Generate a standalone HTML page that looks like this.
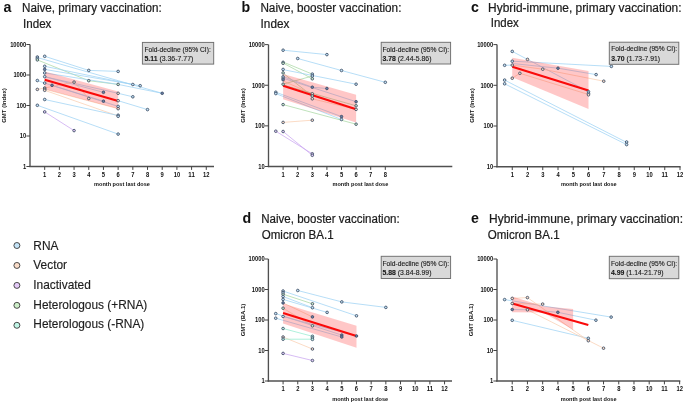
<!DOCTYPE html>
<html><head><meta charset="utf-8"><style>
html,body{margin:0;padding:0;background:#fff;width:685px;height:403px;overflow:hidden}
svg{display:block;will-change:transform;filter:blur(0.35px)}
text{font-family:"Liberation Sans", sans-serif}
</style></head><body>
<svg width="685" height="403" viewBox="0 0 685 403" font-family='"Liberation Sans", sans-serif'>
<rect width="685" height="403" fill="#fff"/>
<text x="3.6" y="11.8" font-size="14.2" font-weight="700" text-anchor="start" fill="#111" >a</text>
<text x="22.0" y="11.8" font-size="12" font-weight="400" text-anchor="start" fill="#1c1c1c" textLength="139.8" lengthAdjust="spacingAndGlyphs" stroke="#1c1c1c" stroke-width="0.22">Naive, primary vaccination:</text>
<text x="23.0" y="27.6" font-size="12" font-weight="400" text-anchor="start" fill="#1c1c1c" textLength="28.4" lengthAdjust="spacingAndGlyphs" stroke="#1c1c1c" stroke-width="0.22">Index</text>
<text x="0" y="0" font-size="6.0" font-weight="700" text-anchor="middle" fill="#111" transform="translate(6.1,105.5) rotate(-90)">GMT (Index)</text>
<line x1="37.34" y1="57.5" x2="162.21" y2="93.3" stroke="#9fd3f4" stroke-width="0.75"/>
<line x1="44.69" y1="56.3" x2="88.76" y2="70.4" stroke="#9fd3f4" stroke-width="0.75"/>
<line x1="88.76" y1="70.4" x2="118.14" y2="71.4" stroke="#9fd3f4" stroke-width="0.75"/>
<line x1="37.34" y1="59.9" x2="88.76" y2="80.7" stroke="#a9d8a4" stroke-width="0.75"/>
<line x1="88.76" y1="80.7" x2="118.14" y2="84.4" stroke="#a9d8a4" stroke-width="0.75"/>
<line x1="44.69" y1="66.3" x2="132.83" y2="84.5" stroke="#9fd3f4" stroke-width="0.75"/>
<line x1="44.69" y1="69.4" x2="140.18" y2="85.7" stroke="#9fd3f4" stroke-width="0.75"/>
<line x1="44.69" y1="72.9" x2="118.14" y2="84.4" stroke="#9fd3f4" stroke-width="0.75"/>
<line x1="118.14" y1="84.4" x2="162.21" y2="93.3" stroke="#9fd3f4" stroke-width="0.75"/>
<line x1="44.69" y1="76.7" x2="118.14" y2="93.3" stroke="#9fd3f4" stroke-width="0.75"/>
<line x1="44.69" y1="76.7" x2="103.45" y2="92.3" stroke="#9fd3f4" stroke-width="0.75"/>
<line x1="37.34" y1="80.5" x2="44.69" y2="83.1" stroke="#9fd3f4" stroke-width="0.75"/>
<line x1="44.69" y1="83.1" x2="118.14" y2="106.4" stroke="#9fd3f4" stroke-width="0.75"/>
<line x1="52.03" y1="85.3" x2="103.45" y2="101.2" stroke="#9fd3f4" stroke-width="0.75"/>
<line x1="37.34" y1="89.4" x2="44.69" y2="88.0" stroke="#f9cfb2" stroke-width="0.75"/>
<line x1="44.69" y1="88" x2="74.07" y2="82.1" stroke="#f9cfb2" stroke-width="0.75"/>
<line x1="44.69" y1="89.2" x2="118.14" y2="108.7" stroke="#f9cfb2" stroke-width="0.75"/>
<line x1="44.69" y1="90.3" x2="118.14" y2="116" stroke="#f9cfb2" stroke-width="0.75"/>
<line x1="74.07" y1="82.1" x2="88.76" y2="98.5" stroke="#f9cfb2" stroke-width="0.75"/>
<line x1="118.14" y1="93.3" x2="132.83" y2="96.8" stroke="#9fd3f4" stroke-width="0.75"/>
<line x1="118.14" y1="100.7" x2="147.52" y2="109.6" stroke="#9fd3f4" stroke-width="0.75"/>
<line x1="44.69" y1="99.5" x2="118.14" y2="115.5" stroke="#9fd3f4" stroke-width="0.75"/>
<line x1="37.34" y1="105.3" x2="118.14" y2="134.1" stroke="#9fd3f4" stroke-width="0.75"/>
<line x1="44.69" y1="111.9" x2="74.07" y2="130.6" stroke="#c9a6f0" stroke-width="0.75"/>
<polygon points="44.69,71.5 118.14,91.6 118.14,108.7 44.69,88.9" fill="#ff2020" fill-opacity="0.25"/>
<line x1="44.69" y1="79.8" x2="118.14" y2="100.9" stroke="#fa0a0a" stroke-width="2.1"/>
<circle cx="37.34" cy="57" r="1.3" fill="#c4e4f8" stroke="#3a4a62" stroke-width="0.85"/>
<circle cx="37.34" cy="58.4" r="1.3" fill="#c4e4f8" stroke="#3a4a62" stroke-width="0.85"/>
<circle cx="37.34" cy="59.9" r="1.3" fill="#cdeec8" stroke="#3a4a62" stroke-width="0.85"/>
<circle cx="37.34" cy="80.5" r="1.3" fill="#c4e4f8" stroke="#3a4a62" stroke-width="0.85"/>
<circle cx="37.34" cy="89.4" r="1.3" fill="#fadcc8" stroke="#3a4a62" stroke-width="0.85"/>
<circle cx="37.34" cy="105.3" r="1.3" fill="#c4e4f8" stroke="#3a4a62" stroke-width="0.85"/>
<circle cx="44.69" cy="56.3" r="1.3" fill="#c4e4f8" stroke="#3a4a62" stroke-width="0.85"/>
<circle cx="44.69" cy="66.3" r="1.3" fill="#c4e4f8" stroke="#3a4a62" stroke-width="0.85"/>
<circle cx="44.69" cy="69.4" r="1.3" fill="#6a7fa8" stroke="#3a4a62" stroke-width="0.85"/>
<circle cx="44.69" cy="72.9" r="1.3" fill="#c4e4f8" stroke="#3a4a62" stroke-width="0.85"/>
<circle cx="44.69" cy="76.7" r="1.3" fill="#c4e4f8" stroke="#3a4a62" stroke-width="0.85"/>
<circle cx="44.69" cy="83.1" r="1.3" fill="#c4e4f8" stroke="#3a4a62" stroke-width="0.85"/>
<circle cx="44.69" cy="88" r="1.3" fill="#fadcc8" stroke="#3a4a62" stroke-width="0.85"/>
<circle cx="44.69" cy="89.2" r="1.3" fill="#fadcc8" stroke="#3a4a62" stroke-width="0.85"/>
<circle cx="44.69" cy="90.3" r="1.3" fill="#fadcc8" stroke="#3a4a62" stroke-width="0.85"/>
<circle cx="44.69" cy="99.5" r="1.3" fill="#c4e4f8" stroke="#3a4a62" stroke-width="0.85"/>
<circle cx="44.69" cy="111.9" r="1.3" fill="#e4caf8" stroke="#3a4a62" stroke-width="0.85"/>
<circle cx="52.03" cy="85.3" r="1.3" fill="#6a7fa8" stroke="#3a4a62" stroke-width="0.85"/>
<circle cx="74.07" cy="82.1" r="1.3" fill="#fadcc8" stroke="#3a4a62" stroke-width="0.85"/>
<circle cx="74.07" cy="130.6" r="1.3" fill="#e4caf8" stroke="#3a4a62" stroke-width="0.85"/>
<circle cx="88.76" cy="70.4" r="1.3" fill="#c4e4f8" stroke="#3a4a62" stroke-width="0.85"/>
<circle cx="88.76" cy="80.7" r="1.3" fill="#cdeec8" stroke="#3a4a62" stroke-width="0.85"/>
<circle cx="88.76" cy="98.5" r="1.3" fill="#fadcc8" stroke="#3a4a62" stroke-width="0.85"/>
<circle cx="103.45" cy="92.3" r="1.3" fill="#6a7fa8" stroke="#3a4a62" stroke-width="0.85"/>
<circle cx="103.45" cy="101.2" r="1.3" fill="#6a7fa8" stroke="#3a4a62" stroke-width="0.85"/>
<circle cx="118.14" cy="71.4" r="1.3" fill="#c4e4f8" stroke="#3a4a62" stroke-width="0.85"/>
<circle cx="118.14" cy="84.4" r="1.3" fill="#cdeec8" stroke="#3a4a62" stroke-width="0.85"/>
<circle cx="118.14" cy="93.3" r="1.3" fill="#fadcc8" stroke="#3a4a62" stroke-width="0.85"/>
<circle cx="118.14" cy="100.7" r="1.3" fill="#fadcc8" stroke="#3a4a62" stroke-width="0.85"/>
<circle cx="118.14" cy="106.4" r="1.3" fill="#c4e4f8" stroke="#3a4a62" stroke-width="0.85"/>
<circle cx="118.14" cy="108.7" r="1.3" fill="#fadcc8" stroke="#3a4a62" stroke-width="0.85"/>
<circle cx="118.14" cy="115.2" r="1.3" fill="#c4e4f8" stroke="#3a4a62" stroke-width="0.85"/>
<circle cx="118.14" cy="116.3" r="1.3" fill="#c4e4f8" stroke="#3a4a62" stroke-width="0.85"/>
<circle cx="118.14" cy="134.1" r="1.3" fill="#c4e4f8" stroke="#3a4a62" stroke-width="0.85"/>
<circle cx="132.83" cy="84.5" r="1.3" fill="#c4e4f8" stroke="#3a4a62" stroke-width="0.85"/>
<circle cx="132.83" cy="96.8" r="1.3" fill="#c4e4f8" stroke="#3a4a62" stroke-width="0.85"/>
<circle cx="140.18" cy="85.7" r="1.3" fill="#c4e4f8" stroke="#3a4a62" stroke-width="0.85"/>
<circle cx="147.52" cy="109.6" r="1.3" fill="#c4e4f8" stroke="#3a4a62" stroke-width="0.85"/>
<circle cx="162.21" cy="93.3" r="1.3" fill="#6a7fa8" stroke="#3a4a62" stroke-width="0.85"/>
<line x1="30.0" y1="44.5" x2="30.0" y2="167.1" stroke="#505050" stroke-width="1.35"/>
<line x1="29.3" y1="166.5" x2="214.0" y2="166.5" stroke="#505050" stroke-width="1.35"/>
<text x="122.0" y="186.0" font-size="6.0" font-weight="700" text-anchor="middle" fill="#111" textLength="55.8" lengthAdjust="spacingAndGlyphs">month post last dose</text>
<line x1="26.4" y1="166.5" x2="30.0" y2="166.5" stroke="#444" stroke-width="1.0"/>
<text x="26.3" y="168.85" font-size="6.6" font-weight="700" text-anchor="end" fill="#111" textLength="3.23" lengthAdjust="spacingAndGlyphs">1</text>
<line x1="26.4" y1="136.0" x2="30.0" y2="136.0" stroke="#444" stroke-width="1.0"/>
<text x="26.3" y="138.35" font-size="6.6" font-weight="700" text-anchor="end" fill="#111" textLength="6.46" lengthAdjust="spacingAndGlyphs">10</text>
<line x1="26.4" y1="105.5" x2="30.0" y2="105.5" stroke="#444" stroke-width="1.0"/>
<text x="26.3" y="107.85" font-size="6.6" font-weight="700" text-anchor="end" fill="#111" textLength="9.69" lengthAdjust="spacingAndGlyphs">100</text>
<line x1="26.4" y1="75.0" x2="30.0" y2="75.0" stroke="#444" stroke-width="1.0"/>
<text x="26.3" y="77.35" font-size="6.6" font-weight="700" text-anchor="end" fill="#111" textLength="12.92" lengthAdjust="spacingAndGlyphs">1000</text>
<line x1="26.4" y1="44.5" x2="30.0" y2="44.5" stroke="#444" stroke-width="1.0"/>
<text x="26.3" y="46.85" font-size="6.6" font-weight="700" text-anchor="end" fill="#111" textLength="16.15" lengthAdjust="spacingAndGlyphs">10000</text>
<line x1="44.69" y1="166.5" x2="44.69" y2="169.9" stroke="#444" stroke-width="1.0"/>
<text x="44.69" y="176.5" font-size="6.6" font-weight="700" text-anchor="middle" fill="#111" textLength="3.23" lengthAdjust="spacingAndGlyphs">1</text>
<line x1="59.379999999999995" y1="166.5" x2="59.379999999999995" y2="169.9" stroke="#444" stroke-width="1.0"/>
<text x="59.379999999999995" y="176.5" font-size="6.6" font-weight="700" text-anchor="middle" fill="#111" textLength="3.23" lengthAdjust="spacingAndGlyphs">2</text>
<line x1="74.07" y1="166.5" x2="74.07" y2="169.9" stroke="#444" stroke-width="1.0"/>
<text x="74.07" y="176.5" font-size="6.6" font-weight="700" text-anchor="middle" fill="#111" textLength="3.23" lengthAdjust="spacingAndGlyphs">3</text>
<line x1="88.75999999999999" y1="166.5" x2="88.75999999999999" y2="169.9" stroke="#444" stroke-width="1.0"/>
<text x="88.75999999999999" y="176.5" font-size="6.6" font-weight="700" text-anchor="middle" fill="#111" textLength="3.23" lengthAdjust="spacingAndGlyphs">4</text>
<line x1="103.45" y1="166.5" x2="103.45" y2="169.9" stroke="#444" stroke-width="1.0"/>
<text x="103.45" y="176.5" font-size="6.6" font-weight="700" text-anchor="middle" fill="#111" textLength="3.23" lengthAdjust="spacingAndGlyphs">5</text>
<line x1="118.14" y1="166.5" x2="118.14" y2="169.9" stroke="#444" stroke-width="1.0"/>
<text x="118.14" y="176.5" font-size="6.6" font-weight="700" text-anchor="middle" fill="#111" textLength="3.23" lengthAdjust="spacingAndGlyphs">6</text>
<line x1="132.82999999999998" y1="166.5" x2="132.82999999999998" y2="169.9" stroke="#444" stroke-width="1.0"/>
<text x="132.82999999999998" y="176.5" font-size="6.6" font-weight="700" text-anchor="middle" fill="#111" textLength="3.23" lengthAdjust="spacingAndGlyphs">7</text>
<line x1="147.51999999999998" y1="166.5" x2="147.51999999999998" y2="169.9" stroke="#444" stroke-width="1.0"/>
<text x="147.51999999999998" y="176.5" font-size="6.6" font-weight="700" text-anchor="middle" fill="#111" textLength="3.23" lengthAdjust="spacingAndGlyphs">8</text>
<line x1="162.21" y1="166.5" x2="162.21" y2="169.9" stroke="#444" stroke-width="1.0"/>
<text x="162.21" y="176.5" font-size="6.6" font-weight="700" text-anchor="middle" fill="#111" textLength="3.23" lengthAdjust="spacingAndGlyphs">9</text>
<line x1="176.9" y1="166.5" x2="176.9" y2="169.9" stroke="#444" stroke-width="1.0"/>
<text x="176.9" y="176.5" font-size="6.6" font-weight="700" text-anchor="middle" fill="#111" textLength="6.46" lengthAdjust="spacingAndGlyphs">10</text>
<line x1="191.59" y1="166.5" x2="191.59" y2="169.9" stroke="#444" stroke-width="1.0"/>
<text x="191.59" y="176.5" font-size="6.6" font-weight="700" text-anchor="middle" fill="#111" textLength="6.46" lengthAdjust="spacingAndGlyphs">11</text>
<line x1="206.28" y1="166.5" x2="206.28" y2="169.9" stroke="#444" stroke-width="1.0"/>
<text x="206.28" y="176.5" font-size="6.6" font-weight="700" text-anchor="middle" fill="#111" textLength="6.46" lengthAdjust="spacingAndGlyphs">12</text>
<rect x="142.4" y="42.4" width="71.29999999999998" height="21.699999999999996" fill="#d9d9d9" stroke="#6e6e6e" stroke-width="0.95"/>
<text x="144.4" y="51.599999999999994" font-size="7" fill="#1a1a1a" stroke="#1a1a1a" stroke-width="0.12" textLength="66.4" lengthAdjust="spacingAndGlyphs">Fold-decline (95% CI):</text>
<text x="144.4" y="60.8" font-size="7" fill="#1a1a1a" stroke="#1a1a1a" stroke-width="0.12" textLength="48.9" lengthAdjust="spacingAndGlyphs"><tspan font-weight="700">5.11</tspan> (3.36-7.77)</text>
<text x="241.6" y="11.6" font-size="14.2" font-weight="700" text-anchor="start" fill="#111" >b</text>
<text x="260.4" y="11.6" font-size="12" font-weight="400" text-anchor="start" fill="#1c1c1c" textLength="141.0" lengthAdjust="spacingAndGlyphs" stroke="#1c1c1c" stroke-width="0.22">Naive, booster vaccination:</text>
<text x="260.6" y="27.5" font-size="12" font-weight="400" text-anchor="start" fill="#1c1c1c" textLength="28.8" lengthAdjust="spacingAndGlyphs" stroke="#1c1c1c" stroke-width="0.22">Index</text>
<text x="0" y="0" font-size="6.0" font-weight="700" text-anchor="middle" fill="#111" transform="translate(245.0,105.5) rotate(-90)">GMT (Index)</text>
<line x1="283.1" y1="50.2" x2="326.9" y2="54.6" stroke="#9fd3f4" stroke-width="0.75"/>
<line x1="297.7" y1="58.5" x2="341.5" y2="70.5" stroke="#9fd3f4" stroke-width="0.75"/>
<line x1="341.5" y1="70.5" x2="385.3" y2="82.3" stroke="#9fd3f4" stroke-width="0.75"/>
<line x1="283.1" y1="62" x2="312.3" y2="74.1" stroke="#a9d8a4" stroke-width="0.75"/>
<line x1="283.1" y1="63" x2="312.3" y2="78.8" stroke="#a9d8a4" stroke-width="0.75"/>
<line x1="283.1" y1="69.6" x2="356.1" y2="84.2" stroke="#9fd3f4" stroke-width="0.75"/>
<line x1="283.1" y1="73.2" x2="312.3" y2="96" stroke="#a9d8a4" stroke-width="0.75"/>
<line x1="283.1" y1="76.6" x2="312.3" y2="87.2" stroke="#9fd3f4" stroke-width="0.75"/>
<line x1="312.3" y1="87.2" x2="326.9" y2="88.5" stroke="#9fd3f4" stroke-width="0.75"/>
<line x1="283.1" y1="78.2" x2="356.1" y2="101.7" stroke="#9fd3f4" stroke-width="0.75"/>
<line x1="283.1" y1="81" x2="312.3" y2="93.8" stroke="#f9cfb2" stroke-width="0.75"/>
<line x1="283.1" y1="84.2" x2="312.3" y2="76" stroke="#a9d8a4" stroke-width="0.75"/>
<line x1="283.1" y1="85" x2="356.1" y2="105.8" stroke="#a9d8a4" stroke-width="0.75"/>
<line x1="312.3" y1="98.8" x2="356.1" y2="109.4" stroke="#f9cfb2" stroke-width="0.75"/>
<line x1="275.8" y1="92.2" x2="341.5" y2="116.6" stroke="#9fd3f4" stroke-width="0.75"/>
<line x1="275.8" y1="93.6" x2="341.5" y2="119.5" stroke="#9fd3f4" stroke-width="0.75"/>
<line x1="283.1" y1="104.6" x2="356.1" y2="124.2" stroke="#a9d8a4" stroke-width="0.75"/>
<line x1="283.1" y1="122.4" x2="312.3" y2="120.2" stroke="#f9cfb2" stroke-width="0.75"/>
<line x1="275.8" y1="131.2" x2="312.3" y2="153.8" stroke="#c9a6f0" stroke-width="0.75"/>
<line x1="283.1" y1="131.5" x2="312.3" y2="155.3" stroke="#c9a6f0" stroke-width="0.75"/>
<polygon points="283.1,74.1 356.1,94.8 356.1,122.4 283.1,99.2" fill="#ff2020" fill-opacity="0.25"/>
<line x1="283.1" y1="85.8" x2="356.1" y2="109.2" stroke="#fa0a0a" stroke-width="2.1"/>
<circle cx="275.8" cy="92.2" r="1.3" fill="#c4e4f8" stroke="#3a4a62" stroke-width="0.85"/>
<circle cx="275.8" cy="93.6" r="1.3" fill="#c4e4f8" stroke="#3a4a62" stroke-width="0.85"/>
<circle cx="275.8" cy="131.2" r="1.3" fill="#e4caf8" stroke="#3a4a62" stroke-width="0.85"/>
<circle cx="283.1" cy="50.2" r="1.3" fill="#c4e4f8" stroke="#3a4a62" stroke-width="0.85"/>
<circle cx="283.1" cy="62.3" r="1.3" fill="#cdeec8" stroke="#3a4a62" stroke-width="0.85"/>
<circle cx="283.1" cy="63.3" r="1.3" fill="#cdeec8" stroke="#3a4a62" stroke-width="0.85"/>
<circle cx="283.1" cy="69.4" r="1.3" fill="#c4e4f8" stroke="#3a4a62" stroke-width="0.85"/>
<circle cx="283.1" cy="72.9" r="1.3" fill="#cdeec8" stroke="#3a4a62" stroke-width="0.85"/>
<circle cx="283.1" cy="76.8" r="1.3" fill="#c4e4f8" stroke="#3a4a62" stroke-width="0.85"/>
<circle cx="283.1" cy="78.3" r="1.3" fill="#c4e4f8" stroke="#3a4a62" stroke-width="0.85"/>
<circle cx="283.1" cy="79.8" r="1.3" fill="#6a7fa8" stroke="#3a4a62" stroke-width="0.85"/>
<circle cx="283.1" cy="84.2" r="1.3" fill="#cdeec8" stroke="#3a4a62" stroke-width="0.85"/>
<circle cx="283.1" cy="104.6" r="1.3" fill="#cdeec8" stroke="#3a4a62" stroke-width="0.85"/>
<circle cx="283.1" cy="122.4" r="1.3" fill="#fadcc8" stroke="#3a4a62" stroke-width="0.85"/>
<circle cx="283.1" cy="131.5" r="1.3" fill="#e4caf8" stroke="#3a4a62" stroke-width="0.85"/>
<circle cx="297.7" cy="58.5" r="1.3" fill="#c4e4f8" stroke="#3a4a62" stroke-width="0.85"/>
<circle cx="312.3" cy="74.1" r="1.3" fill="#c4e4f8" stroke="#3a4a62" stroke-width="0.85"/>
<circle cx="312.3" cy="76" r="1.3" fill="#c4e4f8" stroke="#3a4a62" stroke-width="0.85"/>
<circle cx="312.3" cy="78.8" r="1.3" fill="#cdeec8" stroke="#3a4a62" stroke-width="0.85"/>
<circle cx="312.3" cy="87.2" r="1.3" fill="#6a7fa8" stroke="#3a4a62" stroke-width="0.85"/>
<circle cx="312.3" cy="93.8" r="1.3" fill="#fadcc8" stroke="#3a4a62" stroke-width="0.85"/>
<circle cx="312.3" cy="96" r="1.3" fill="#cdeec8" stroke="#3a4a62" stroke-width="0.85"/>
<circle cx="312.3" cy="98.8" r="1.3" fill="#fadcc8" stroke="#3a4a62" stroke-width="0.85"/>
<circle cx="312.3" cy="120.2" r="1.3" fill="#fadcc8" stroke="#3a4a62" stroke-width="0.85"/>
<circle cx="312.3" cy="153.8" r="1.3" fill="#e4caf8" stroke="#3a4a62" stroke-width="0.85"/>
<circle cx="312.3" cy="155.3" r="1.3" fill="#e4caf8" stroke="#3a4a62" stroke-width="0.85"/>
<circle cx="326.9" cy="54.6" r="1.3" fill="#c4e4f8" stroke="#3a4a62" stroke-width="0.85"/>
<circle cx="326.9" cy="88.5" r="1.3" fill="#6a7fa8" stroke="#3a4a62" stroke-width="0.85"/>
<circle cx="341.5" cy="70.5" r="1.3" fill="#c4e4f8" stroke="#3a4a62" stroke-width="0.85"/>
<circle cx="341.5" cy="116.6" r="1.3" fill="#6a7fa8" stroke="#3a4a62" stroke-width="0.85"/>
<circle cx="341.5" cy="119.5" r="1.3" fill="#c4e4f8" stroke="#3a4a62" stroke-width="0.85"/>
<circle cx="356.1" cy="84.2" r="1.3" fill="#c4e4f8" stroke="#3a4a62" stroke-width="0.85"/>
<circle cx="356.1" cy="101.7" r="1.3" fill="#6a7fa8" stroke="#3a4a62" stroke-width="0.85"/>
<circle cx="356.1" cy="105.8" r="1.3" fill="#cdeec8" stroke="#3a4a62" stroke-width="0.85"/>
<circle cx="356.1" cy="109.4" r="1.3" fill="#fadcc8" stroke="#3a4a62" stroke-width="0.85"/>
<circle cx="356.1" cy="124.2" r="1.3" fill="#cdeec8" stroke="#3a4a62" stroke-width="0.85"/>
<circle cx="385.3" cy="82.3" r="1.3" fill="#c4e4f8" stroke="#3a4a62" stroke-width="0.85"/>
<line x1="268.5" y1="44.609999999999985" x2="268.5" y2="167.1" stroke="#505050" stroke-width="1.35"/>
<line x1="267.8" y1="166.5" x2="452.3" y2="166.5" stroke="#505050" stroke-width="1.35"/>
<text x="360.4" y="186.0" font-size="6.0" font-weight="700" text-anchor="middle" fill="#111" textLength="55.8" lengthAdjust="spacingAndGlyphs">month post last dose</text>
<line x1="264.9" y1="166.5" x2="268.5" y2="166.5" stroke="#444" stroke-width="1.0"/>
<text x="264.8" y="168.85" font-size="6.6" font-weight="700" text-anchor="end" fill="#111" textLength="6.46" lengthAdjust="spacingAndGlyphs">10</text>
<line x1="264.9" y1="125.87" x2="268.5" y2="125.87" stroke="#444" stroke-width="1.0"/>
<text x="264.8" y="128.22" font-size="6.6" font-weight="700" text-anchor="end" fill="#111" textLength="9.69" lengthAdjust="spacingAndGlyphs">100</text>
<line x1="264.9" y1="85.24" x2="268.5" y2="85.24" stroke="#444" stroke-width="1.0"/>
<text x="264.8" y="87.58999999999999" font-size="6.6" font-weight="700" text-anchor="end" fill="#111" textLength="12.92" lengthAdjust="spacingAndGlyphs">1000</text>
<line x1="264.9" y1="44.609999999999985" x2="268.5" y2="44.609999999999985" stroke="#444" stroke-width="1.0"/>
<text x="264.8" y="46.95999999999999" font-size="6.6" font-weight="700" text-anchor="end" fill="#111" textLength="16.15" lengthAdjust="spacingAndGlyphs">10000</text>
<line x1="283.1" y1="166.5" x2="283.1" y2="169.9" stroke="#444" stroke-width="1.0"/>
<text x="283.1" y="176.5" font-size="6.6" font-weight="700" text-anchor="middle" fill="#111" textLength="3.23" lengthAdjust="spacingAndGlyphs">1</text>
<line x1="297.7" y1="166.5" x2="297.7" y2="169.9" stroke="#444" stroke-width="1.0"/>
<text x="297.7" y="176.5" font-size="6.6" font-weight="700" text-anchor="middle" fill="#111" textLength="3.23" lengthAdjust="spacingAndGlyphs">2</text>
<line x1="312.3" y1="166.5" x2="312.3" y2="169.9" stroke="#444" stroke-width="1.0"/>
<text x="312.3" y="176.5" font-size="6.6" font-weight="700" text-anchor="middle" fill="#111" textLength="3.23" lengthAdjust="spacingAndGlyphs">3</text>
<line x1="326.9" y1="166.5" x2="326.9" y2="169.9" stroke="#444" stroke-width="1.0"/>
<text x="326.9" y="176.5" font-size="6.6" font-weight="700" text-anchor="middle" fill="#111" textLength="3.23" lengthAdjust="spacingAndGlyphs">4</text>
<line x1="341.5" y1="166.5" x2="341.5" y2="169.9" stroke="#444" stroke-width="1.0"/>
<text x="341.5" y="176.5" font-size="6.6" font-weight="700" text-anchor="middle" fill="#111" textLength="3.23" lengthAdjust="spacingAndGlyphs">5</text>
<line x1="356.1" y1="166.5" x2="356.1" y2="169.9" stroke="#444" stroke-width="1.0"/>
<text x="356.1" y="176.5" font-size="6.6" font-weight="700" text-anchor="middle" fill="#111" textLength="3.23" lengthAdjust="spacingAndGlyphs">6</text>
<line x1="370.7" y1="166.5" x2="370.7" y2="169.9" stroke="#444" stroke-width="1.0"/>
<text x="370.7" y="176.5" font-size="6.6" font-weight="700" text-anchor="middle" fill="#111" textLength="3.23" lengthAdjust="spacingAndGlyphs">7</text>
<line x1="385.3" y1="166.5" x2="385.3" y2="169.9" stroke="#444" stroke-width="1.0"/>
<text x="385.3" y="176.5" font-size="6.6" font-weight="700" text-anchor="middle" fill="#111" textLength="3.23" lengthAdjust="spacingAndGlyphs">8</text>
<rect x="381.2" y="42.3" width="69.40000000000003" height="21.700000000000003" fill="#d9d9d9" stroke="#6e6e6e" stroke-width="0.95"/>
<text x="382.5" y="51.5" font-size="7" fill="#1a1a1a" stroke="#1a1a1a" stroke-width="0.12" textLength="66.6" lengthAdjust="spacingAndGlyphs">Fold-decline (95% CI):</text>
<text x="382.5" y="60.699999999999996" font-size="7" fill="#1a1a1a" stroke="#1a1a1a" stroke-width="0.12" textLength="49.0" lengthAdjust="spacingAndGlyphs"><tspan font-weight="700">3.78</tspan> (2.44-5.86)</text>
<text x="471.0" y="11.7" font-size="14.2" font-weight="700" text-anchor="start" fill="#111" >c</text>
<text x="488.1" y="11.7" font-size="12" font-weight="400" text-anchor="start" fill="#1c1c1c" textLength="193.4" lengthAdjust="spacingAndGlyphs" stroke="#1c1c1c" stroke-width="0.22">Hybrid-immune, primary vaccination:</text>
<text x="490.8" y="27.4" font-size="12" font-weight="400" text-anchor="start" fill="#1c1c1c" textLength="28.0" lengthAdjust="spacingAndGlyphs" stroke="#1c1c1c" stroke-width="0.22">Index</text>
<text x="0" y="0" font-size="6.0" font-weight="700" text-anchor="middle" fill="#111" transform="translate(474.0,105.5) rotate(-90)">GMT (Index)</text>
<line x1="512.25" y1="51.4" x2="527.5" y2="59.4" stroke="#9fd3f4" stroke-width="0.75"/>
<line x1="527.5" y1="59.4" x2="588.5" y2="91.7" stroke="#9fd3f4" stroke-width="0.75"/>
<line x1="512.25" y1="61.2" x2="611.38" y2="66.4" stroke="#9fd3f4" stroke-width="0.75"/>
<line x1="504.62" y1="65.3" x2="512.25" y2="65.1" stroke="#9fd3f4" stroke-width="0.75"/>
<line x1="512.25" y1="63.5" x2="558.0" y2="68.2" stroke="#9fd3f4" stroke-width="0.75"/>
<line x1="558.0" y1="68.2" x2="596.12" y2="74.6" stroke="#9fd3f4" stroke-width="0.75"/>
<line x1="512.25" y1="65.1" x2="542.75" y2="69.2" stroke="#f9cfb2" stroke-width="0.75"/>
<line x1="542.75" y1="69.2" x2="603.75" y2="81.2" stroke="#f9cfb2" stroke-width="0.75"/>
<line x1="512.25" y1="78.2" x2="519.88" y2="73.3" stroke="#f9cfb2" stroke-width="0.75"/>
<line x1="519.88" y1="73.3" x2="588.5" y2="94.5" stroke="#f9cfb2" stroke-width="0.75"/>
<line x1="504.62" y1="80.1" x2="626.62" y2="142.4" stroke="#9fd3f4" stroke-width="0.75"/>
<line x1="504.62" y1="83.8" x2="626.62" y2="144.6" stroke="#9fd3f4" stroke-width="0.75"/>
<polygon points="512.25,57.7 588.5,71.0 588.5,108.9 512.25,77.3" fill="#ff2020" fill-opacity="0.25"/>
<line x1="512.25" y1="66.7" x2="588.5" y2="90.6" stroke="#fa0a0a" stroke-width="2.1"/>
<circle cx="504.62" cy="65.3" r="1.3" fill="#c4e4f8" stroke="#3a4a62" stroke-width="0.85"/>
<circle cx="504.62" cy="80.1" r="1.3" fill="#c4e4f8" stroke="#3a4a62" stroke-width="0.85"/>
<circle cx="504.62" cy="83.8" r="1.3" fill="#c4e4f8" stroke="#3a4a62" stroke-width="0.85"/>
<circle cx="512.25" cy="51.4" r="1.3" fill="#c4e4f8" stroke="#3a4a62" stroke-width="0.85"/>
<circle cx="512.25" cy="61.2" r="1.3" fill="#c4e4f8" stroke="#3a4a62" stroke-width="0.85"/>
<circle cx="512.25" cy="65.1" r="1.3" fill="#fadcc8" stroke="#3a4a62" stroke-width="0.85"/>
<circle cx="512.25" cy="78.2" r="1.3" fill="#fadcc8" stroke="#3a4a62" stroke-width="0.85"/>
<circle cx="519.88" cy="73.3" r="1.3" fill="#fadcc8" stroke="#3a4a62" stroke-width="0.85"/>
<circle cx="527.5" cy="59.4" r="1.3" fill="#fadcc8" stroke="#3a4a62" stroke-width="0.85"/>
<circle cx="542.75" cy="69.2" r="1.3" fill="#fadcc8" stroke="#3a4a62" stroke-width="0.85"/>
<circle cx="558.0" cy="68.2" r="1.3" fill="#6a7fa8" stroke="#3a4a62" stroke-width="0.85"/>
<circle cx="588.5" cy="91.7" r="1.3" fill="#c4e4f8" stroke="#3a4a62" stroke-width="0.85"/>
<circle cx="588.5" cy="93.3" r="1.3" fill="#c4e4f8" stroke="#3a4a62" stroke-width="0.85"/>
<circle cx="588.5" cy="94.8" r="1.3" fill="#fadcc8" stroke="#3a4a62" stroke-width="0.85"/>
<circle cx="596.12" cy="74.6" r="1.3" fill="#c4e4f8" stroke="#3a4a62" stroke-width="0.85"/>
<circle cx="603.75" cy="81.2" r="1.3" fill="#fadcc8" stroke="#3a4a62" stroke-width="0.85"/>
<circle cx="611.38" cy="66.4" r="1.3" fill="#c4e4f8" stroke="#3a4a62" stroke-width="0.85"/>
<circle cx="626.62" cy="142" r="1.3" fill="#c4e4f8" stroke="#3a4a62" stroke-width="0.85"/>
<circle cx="626.62" cy="144.6" r="1.3" fill="#c4e4f8" stroke="#3a4a62" stroke-width="0.85"/>
<line x1="497.0" y1="44.59999999999998" x2="497.0" y2="167.29999999999998" stroke="#505050" stroke-width="1.35"/>
<line x1="496.3" y1="166.7" x2="680.6" y2="166.7" stroke="#505050" stroke-width="1.35"/>
<text x="588.8" y="186.2" font-size="6.0" font-weight="700" text-anchor="middle" fill="#111" textLength="55.8" lengthAdjust="spacingAndGlyphs">month post last dose</text>
<line x1="493.4" y1="166.7" x2="497.0" y2="166.7" stroke="#444" stroke-width="1.0"/>
<text x="493.3" y="169.04999999999998" font-size="6.6" font-weight="700" text-anchor="end" fill="#111" textLength="6.46" lengthAdjust="spacingAndGlyphs">10</text>
<line x1="493.4" y1="125.99999999999999" x2="497.0" y2="125.99999999999999" stroke="#444" stroke-width="1.0"/>
<text x="493.3" y="128.35" font-size="6.6" font-weight="700" text-anchor="end" fill="#111" textLength="9.69" lengthAdjust="spacingAndGlyphs">100</text>
<line x1="493.4" y1="85.29999999999998" x2="497.0" y2="85.29999999999998" stroke="#444" stroke-width="1.0"/>
<text x="493.3" y="87.64999999999998" font-size="6.6" font-weight="700" text-anchor="end" fill="#111" textLength="12.92" lengthAdjust="spacingAndGlyphs">1000</text>
<line x1="493.4" y1="44.59999999999998" x2="497.0" y2="44.59999999999998" stroke="#444" stroke-width="1.0"/>
<text x="493.3" y="46.94999999999998" font-size="6.6" font-weight="700" text-anchor="end" fill="#111" textLength="16.15" lengthAdjust="spacingAndGlyphs">10000</text>
<line x1="512.25" y1="166.7" x2="512.25" y2="170.1" stroke="#444" stroke-width="1.0"/>
<text x="512.25" y="176.7" font-size="6.6" font-weight="700" text-anchor="middle" fill="#111" textLength="3.23" lengthAdjust="spacingAndGlyphs">1</text>
<line x1="527.5" y1="166.7" x2="527.5" y2="170.1" stroke="#444" stroke-width="1.0"/>
<text x="527.5" y="176.7" font-size="6.6" font-weight="700" text-anchor="middle" fill="#111" textLength="3.23" lengthAdjust="spacingAndGlyphs">2</text>
<line x1="542.75" y1="166.7" x2="542.75" y2="170.1" stroke="#444" stroke-width="1.0"/>
<text x="542.75" y="176.7" font-size="6.6" font-weight="700" text-anchor="middle" fill="#111" textLength="3.23" lengthAdjust="spacingAndGlyphs">3</text>
<line x1="558.0" y1="166.7" x2="558.0" y2="170.1" stroke="#444" stroke-width="1.0"/>
<text x="558.0" y="176.7" font-size="6.6" font-weight="700" text-anchor="middle" fill="#111" textLength="3.23" lengthAdjust="spacingAndGlyphs">4</text>
<line x1="573.25" y1="166.7" x2="573.25" y2="170.1" stroke="#444" stroke-width="1.0"/>
<text x="573.25" y="176.7" font-size="6.6" font-weight="700" text-anchor="middle" fill="#111" textLength="3.23" lengthAdjust="spacingAndGlyphs">5</text>
<line x1="588.5" y1="166.7" x2="588.5" y2="170.1" stroke="#444" stroke-width="1.0"/>
<text x="588.5" y="176.7" font-size="6.6" font-weight="700" text-anchor="middle" fill="#111" textLength="3.23" lengthAdjust="spacingAndGlyphs">6</text>
<line x1="603.75" y1="166.7" x2="603.75" y2="170.1" stroke="#444" stroke-width="1.0"/>
<text x="603.75" y="176.7" font-size="6.6" font-weight="700" text-anchor="middle" fill="#111" textLength="3.23" lengthAdjust="spacingAndGlyphs">7</text>
<line x1="619.0" y1="166.7" x2="619.0" y2="170.1" stroke="#444" stroke-width="1.0"/>
<text x="619.0" y="176.7" font-size="6.6" font-weight="700" text-anchor="middle" fill="#111" textLength="3.23" lengthAdjust="spacingAndGlyphs">8</text>
<line x1="634.25" y1="166.7" x2="634.25" y2="170.1" stroke="#444" stroke-width="1.0"/>
<text x="634.25" y="176.7" font-size="6.6" font-weight="700" text-anchor="middle" fill="#111" textLength="3.23" lengthAdjust="spacingAndGlyphs">9</text>
<line x1="649.5" y1="166.7" x2="649.5" y2="170.1" stroke="#444" stroke-width="1.0"/>
<text x="649.5" y="176.7" font-size="6.6" font-weight="700" text-anchor="middle" fill="#111" textLength="6.46" lengthAdjust="spacingAndGlyphs">10</text>
<line x1="664.75" y1="166.7" x2="664.75" y2="170.1" stroke="#444" stroke-width="1.0"/>
<text x="664.75" y="176.7" font-size="6.6" font-weight="700" text-anchor="middle" fill="#111" textLength="6.46" lengthAdjust="spacingAndGlyphs">11</text>
<line x1="680.0" y1="166.7" x2="680.0" y2="170.1" stroke="#444" stroke-width="1.0"/>
<text x="680.0" y="176.7" font-size="6.6" font-weight="700" text-anchor="middle" fill="#111" textLength="6.46" lengthAdjust="spacingAndGlyphs">12</text>
<rect x="609.3" y="42.2" width="69.5" height="22.099999999999994" fill="#d9d9d9" stroke="#6e6e6e" stroke-width="0.95"/>
<text x="611.3000000000001" y="51.400000000000006" font-size="7" fill="#1a1a1a" stroke="#1a1a1a" stroke-width="0.12" textLength="65.9" lengthAdjust="spacingAndGlyphs">Fold-decline (95% CI):</text>
<text x="611.3000000000001" y="60.6" font-size="7" fill="#1a1a1a" stroke="#1a1a1a" stroke-width="0.12" textLength="48.8" lengthAdjust="spacingAndGlyphs"><tspan font-weight="700">3.70</tspan> (1.73-7.91)</text>
<text x="242.5" y="222.9" font-size="14.2" font-weight="700" text-anchor="start" fill="#111" >d</text>
<text x="261.3" y="222.9" font-size="12" font-weight="400" text-anchor="start" fill="#1c1c1c" textLength="138.4" lengthAdjust="spacingAndGlyphs" stroke="#1c1c1c" stroke-width="0.22">Naive, booster vaccination:</text>
<text x="261.7" y="238.9" font-size="12" font-weight="400" text-anchor="start" fill="#1c1c1c" textLength="72.0" lengthAdjust="spacingAndGlyphs" stroke="#1c1c1c" stroke-width="0.22">Omicron BA.1</text>
<text x="0" y="0" font-size="6.0" font-weight="700" text-anchor="middle" fill="#111" transform="translate(244.6,320) rotate(-90)">GMT (BA.1)</text>
<line x1="297.76" y1="290.5" x2="341.8" y2="301.9" stroke="#9fd3f4" stroke-width="0.75"/>
<line x1="341.8" y1="301.9" x2="385.84" y2="307.4" stroke="#9fd3f4" stroke-width="0.75"/>
<line x1="283.08" y1="291" x2="356.48" y2="315.8" stroke="#9fd3f4" stroke-width="0.75"/>
<line x1="283.08" y1="294.2" x2="312.44" y2="303.8" stroke="#a9d8a4" stroke-width="0.75"/>
<line x1="283.08" y1="296.5" x2="312.44" y2="307.7" stroke="#9fd3f4" stroke-width="0.75"/>
<line x1="283.08" y1="299.4" x2="327.12" y2="312.4" stroke="#9fd3f4" stroke-width="0.75"/>
<line x1="283.08" y1="302.9" x2="312.44" y2="316.9" stroke="#f9cfb2" stroke-width="0.75"/>
<line x1="283.08" y1="308.2" x2="312.44" y2="325.8" stroke="#f9cfb2" stroke-width="0.75"/>
<line x1="275.74" y1="313.6" x2="341.8" y2="335.1" stroke="#9fd3f4" stroke-width="0.75"/>
<line x1="275.74" y1="318.2" x2="341.8" y2="337" stroke="#9fd3f4" stroke-width="0.75"/>
<line x1="283.08" y1="316.5" x2="356.48" y2="336" stroke="#9fd3f4" stroke-width="0.75"/>
<line x1="283.08" y1="328.5" x2="312.44" y2="336.3" stroke="#94ebd0" stroke-width="0.75"/>
<line x1="283.08" y1="337" x2="312.44" y2="349" stroke="#f9cfb2" stroke-width="0.75"/>
<line x1="283.08" y1="339.2" x2="312.44" y2="339.2" stroke="#94ebd0" stroke-width="0.75"/>
<line x1="283.08" y1="353.4" x2="312.44" y2="360.5" stroke="#c9a6f0" stroke-width="0.75"/>
<polygon points="283.08,303.4 356.48,325.8 356.48,347.7 283.08,323.6" fill="#ff2020" fill-opacity="0.25"/>
<line x1="283.08" y1="312.9" x2="356.48" y2="336.0" stroke="#fa0a0a" stroke-width="2.1"/>
<circle cx="275.74" cy="313.6" r="1.3" fill="#c4e4f8" stroke="#3a4a62" stroke-width="0.85"/>
<circle cx="275.74" cy="318.2" r="1.3" fill="#c4e4f8" stroke="#3a4a62" stroke-width="0.85"/>
<circle cx="283.08" cy="291" r="1.3" fill="#c4e4f8" stroke="#3a4a62" stroke-width="0.85"/>
<circle cx="283.08" cy="292.6" r="1.3" fill="#c4e4f8" stroke="#3a4a62" stroke-width="0.85"/>
<circle cx="283.08" cy="294.2" r="1.3" fill="#cdeec8" stroke="#3a4a62" stroke-width="0.85"/>
<circle cx="283.08" cy="296.5" r="1.3" fill="#c4e4f8" stroke="#3a4a62" stroke-width="0.85"/>
<circle cx="283.08" cy="299.4" r="1.3" fill="#c4e4f8" stroke="#3a4a62" stroke-width="0.85"/>
<circle cx="283.08" cy="302.9" r="1.3" fill="#6a7fa8" stroke="#3a4a62" stroke-width="0.85"/>
<circle cx="283.08" cy="308.2" r="1.3" fill="#cdeec8" stroke="#3a4a62" stroke-width="0.85"/>
<circle cx="283.08" cy="316.5" r="1.3" fill="#c4e4f8" stroke="#3a4a62" stroke-width="0.85"/>
<circle cx="283.08" cy="328.5" r="1.3" fill="#c0f5e6" stroke="#3a4a62" stroke-width="0.85"/>
<circle cx="283.08" cy="337" r="1.3" fill="#fadcc8" stroke="#3a4a62" stroke-width="0.85"/>
<circle cx="283.08" cy="339.2" r="1.3" fill="#c0f5e6" stroke="#3a4a62" stroke-width="0.85"/>
<circle cx="283.08" cy="353.4" r="1.3" fill="#e4caf8" stroke="#3a4a62" stroke-width="0.85"/>
<circle cx="297.76" cy="290.5" r="1.3" fill="#c4e4f8" stroke="#3a4a62" stroke-width="0.85"/>
<circle cx="312.44" cy="303.8" r="1.3" fill="#cdeec8" stroke="#3a4a62" stroke-width="0.85"/>
<circle cx="312.44" cy="307.7" r="1.3" fill="#c4e4f8" stroke="#3a4a62" stroke-width="0.85"/>
<circle cx="312.44" cy="316.9" r="1.3" fill="#6a7fa8" stroke="#3a4a62" stroke-width="0.85"/>
<circle cx="312.44" cy="325.8" r="1.3" fill="#cdeec8" stroke="#3a4a62" stroke-width="0.85"/>
<circle cx="312.44" cy="336.3" r="1.3" fill="#c0f5e6" stroke="#3a4a62" stroke-width="0.85"/>
<circle cx="312.44" cy="337.9" r="1.3" fill="#c0f5e6" stroke="#3a4a62" stroke-width="0.85"/>
<circle cx="312.44" cy="339.4" r="1.3" fill="#c0f5e6" stroke="#3a4a62" stroke-width="0.85"/>
<circle cx="312.44" cy="349" r="1.3" fill="#fadcc8" stroke="#3a4a62" stroke-width="0.85"/>
<circle cx="312.44" cy="360.5" r="1.3" fill="#e4caf8" stroke="#3a4a62" stroke-width="0.85"/>
<circle cx="327.12" cy="312.4" r="1.3" fill="#c4e4f8" stroke="#3a4a62" stroke-width="0.85"/>
<circle cx="341.8" cy="301.9" r="1.3" fill="#c4e4f8" stroke="#3a4a62" stroke-width="0.85"/>
<circle cx="341.8" cy="335.1" r="1.3" fill="#6a7fa8" stroke="#3a4a62" stroke-width="0.85"/>
<circle cx="341.8" cy="337" r="1.3" fill="#6a7fa8" stroke="#3a4a62" stroke-width="0.85"/>
<circle cx="356.48" cy="315.8" r="1.3" fill="#c4e4f8" stroke="#3a4a62" stroke-width="0.85"/>
<circle cx="356.48" cy="336" r="1.3" fill="#6a7fa8" stroke="#3a4a62" stroke-width="0.85"/>
<circle cx="385.84" cy="307.4" r="1.3" fill="#c4e4f8" stroke="#3a4a62" stroke-width="0.85"/>
<line x1="268.4" y1="259.0" x2="268.4" y2="381.6" stroke="#505050" stroke-width="1.35"/>
<line x1="267.7" y1="381.0" x2="452.0" y2="381.0" stroke="#505050" stroke-width="1.35"/>
<text x="360.2" y="400.5" font-size="6.0" font-weight="700" text-anchor="middle" fill="#111" textLength="55.8" lengthAdjust="spacingAndGlyphs">month post last dose</text>
<line x1="264.79999999999995" y1="381.0" x2="268.4" y2="381.0" stroke="#444" stroke-width="1.0"/>
<text x="264.7" y="383.35" font-size="6.6" font-weight="700" text-anchor="end" fill="#111" textLength="3.23" lengthAdjust="spacingAndGlyphs">1</text>
<line x1="264.79999999999995" y1="350.5" x2="268.4" y2="350.5" stroke="#444" stroke-width="1.0"/>
<text x="264.7" y="352.85" font-size="6.6" font-weight="700" text-anchor="end" fill="#111" textLength="6.46" lengthAdjust="spacingAndGlyphs">10</text>
<line x1="264.79999999999995" y1="320.0" x2="268.4" y2="320.0" stroke="#444" stroke-width="1.0"/>
<text x="264.7" y="322.35" font-size="6.6" font-weight="700" text-anchor="end" fill="#111" textLength="9.69" lengthAdjust="spacingAndGlyphs">100</text>
<line x1="264.79999999999995" y1="289.5" x2="268.4" y2="289.5" stroke="#444" stroke-width="1.0"/>
<text x="264.7" y="291.85" font-size="6.6" font-weight="700" text-anchor="end" fill="#111" textLength="12.92" lengthAdjust="spacingAndGlyphs">1000</text>
<line x1="264.79999999999995" y1="259.0" x2="268.4" y2="259.0" stroke="#444" stroke-width="1.0"/>
<text x="264.7" y="261.35" font-size="6.6" font-weight="700" text-anchor="end" fill="#111" textLength="16.15" lengthAdjust="spacingAndGlyphs">10000</text>
<line x1="283.08" y1="381.0" x2="283.08" y2="384.4" stroke="#444" stroke-width="1.0"/>
<text x="283.08" y="391.0" font-size="6.6" font-weight="700" text-anchor="middle" fill="#111" textLength="3.23" lengthAdjust="spacingAndGlyphs">1</text>
<line x1="297.76" y1="381.0" x2="297.76" y2="384.4" stroke="#444" stroke-width="1.0"/>
<text x="297.76" y="391.0" font-size="6.6" font-weight="700" text-anchor="middle" fill="#111" textLength="3.23" lengthAdjust="spacingAndGlyphs">2</text>
<line x1="312.44" y1="381.0" x2="312.44" y2="384.4" stroke="#444" stroke-width="1.0"/>
<text x="312.44" y="391.0" font-size="6.6" font-weight="700" text-anchor="middle" fill="#111" textLength="3.23" lengthAdjust="spacingAndGlyphs">3</text>
<line x1="327.12" y1="381.0" x2="327.12" y2="384.4" stroke="#444" stroke-width="1.0"/>
<text x="327.12" y="391.0" font-size="6.6" font-weight="700" text-anchor="middle" fill="#111" textLength="3.23" lengthAdjust="spacingAndGlyphs">4</text>
<line x1="341.79999999999995" y1="381.0" x2="341.79999999999995" y2="384.4" stroke="#444" stroke-width="1.0"/>
<text x="341.79999999999995" y="391.0" font-size="6.6" font-weight="700" text-anchor="middle" fill="#111" textLength="3.23" lengthAdjust="spacingAndGlyphs">5</text>
<line x1="356.47999999999996" y1="381.0" x2="356.47999999999996" y2="384.4" stroke="#444" stroke-width="1.0"/>
<text x="356.47999999999996" y="391.0" font-size="6.6" font-weight="700" text-anchor="middle" fill="#111" textLength="3.23" lengthAdjust="spacingAndGlyphs">6</text>
<line x1="371.15999999999997" y1="381.0" x2="371.15999999999997" y2="384.4" stroke="#444" stroke-width="1.0"/>
<text x="371.15999999999997" y="391.0" font-size="6.6" font-weight="700" text-anchor="middle" fill="#111" textLength="3.23" lengthAdjust="spacingAndGlyphs">7</text>
<line x1="385.84" y1="381.0" x2="385.84" y2="384.4" stroke="#444" stroke-width="1.0"/>
<text x="385.84" y="391.0" font-size="6.6" font-weight="700" text-anchor="middle" fill="#111" textLength="3.23" lengthAdjust="spacingAndGlyphs">8</text>
<line x1="400.52" y1="381.0" x2="400.52" y2="384.4" stroke="#444" stroke-width="1.0"/>
<text x="400.52" y="391.0" font-size="6.6" font-weight="700" text-anchor="middle" fill="#111" textLength="3.23" lengthAdjust="spacingAndGlyphs">9</text>
<line x1="415.2" y1="381.0" x2="415.2" y2="384.4" stroke="#444" stroke-width="1.0"/>
<text x="415.2" y="391.0" font-size="6.6" font-weight="700" text-anchor="middle" fill="#111" textLength="6.46" lengthAdjust="spacingAndGlyphs">10</text>
<line x1="429.88" y1="381.0" x2="429.88" y2="384.4" stroke="#444" stroke-width="1.0"/>
<text x="429.88" y="391.0" font-size="6.6" font-weight="700" text-anchor="middle" fill="#111" textLength="6.46" lengthAdjust="spacingAndGlyphs">11</text>
<line x1="444.55999999999995" y1="381.0" x2="444.55999999999995" y2="384.4" stroke="#444" stroke-width="1.0"/>
<text x="444.55999999999995" y="391.0" font-size="6.6" font-weight="700" text-anchor="middle" fill="#111" textLength="6.46" lengthAdjust="spacingAndGlyphs">12</text>
<rect x="381.2" y="256.3" width="69.40000000000003" height="22.19999999999999" fill="#d9d9d9" stroke="#6e6e6e" stroke-width="0.95"/>
<text x="382.5" y="265.5" font-size="7" fill="#1a1a1a" stroke="#1a1a1a" stroke-width="0.12" textLength="66.6" lengthAdjust="spacingAndGlyphs">Fold-decline (95% CI):</text>
<text x="382.5" y="274.7" font-size="7" fill="#1a1a1a" stroke="#1a1a1a" stroke-width="0.12" textLength="49.0" lengthAdjust="spacingAndGlyphs"><tspan font-weight="700">5.88</tspan> (3.84-8.99)</text>
<text x="471.0" y="223.1" font-size="14.2" font-weight="700" text-anchor="start" fill="#111" >e</text>
<text x="489.1" y="223.1" font-size="12" font-weight="400" text-anchor="start" fill="#1c1c1c" textLength="194.0" lengthAdjust="spacingAndGlyphs" stroke="#1c1c1c" stroke-width="0.22">Hybrid-immune, primary vaccination:</text>
<text x="487.7" y="238.9" font-size="12" font-weight="400" text-anchor="start" fill="#1c1c1c" textLength="72.0" lengthAdjust="spacingAndGlyphs" stroke="#1c1c1c" stroke-width="0.22">Omicron BA.1</text>
<text x="0" y="0" font-size="6.0" font-weight="700" text-anchor="middle" fill="#111" transform="translate(473.1,320) rotate(-90)">GMT (BA.1)</text>
<line x1="504.61" y1="299.6" x2="611.15" y2="317.1" stroke="#9fd3f4" stroke-width="0.75"/>
<line x1="512.22" y1="309.5" x2="527.44" y2="309.8" stroke="#9fd3f4" stroke-width="0.75"/>
<line x1="527.44" y1="309.8" x2="557.88" y2="312.3" stroke="#9fd3f4" stroke-width="0.75"/>
<line x1="557.88" y1="312.3" x2="595.93" y2="320.2" stroke="#9fd3f4" stroke-width="0.75"/>
<line x1="512.22" y1="320.3" x2="588.32" y2="338.3" stroke="#9fd3f4" stroke-width="0.75"/>
<line x1="512.22" y1="298.4" x2="527.44" y2="297.6" stroke="#f9cfb2" stroke-width="0.75"/>
<line x1="527.44" y1="297.6" x2="588.32" y2="340.7" stroke="#f9cfb2" stroke-width="0.75"/>
<line x1="512.22" y1="303.5" x2="542.66" y2="304.1" stroke="#f9cfb2" stroke-width="0.75"/>
<line x1="527.44" y1="309.8" x2="603.54" y2="348.2" stroke="#f9cfb2" stroke-width="0.75"/>
<polygon points="512.22,296.5 543.42,306.3 573.1,309.1 573.1,329.7 543.42,312.6 512.22,312.3" fill="#ff2020" fill-opacity="0.25"/>
<line x1="512.22" y1="303.6" x2="588.32" y2="324.9" stroke="#fa0a0a" stroke-width="2.1"/>
<circle cx="504.61" cy="299.6" r="1.3" fill="#c4e4f8" stroke="#3a4a62" stroke-width="0.85"/>
<circle cx="512.22" cy="298.4" r="1.3" fill="#fadcc8" stroke="#3a4a62" stroke-width="0.85"/>
<circle cx="512.22" cy="303.5" r="1.3" fill="#fadcc8" stroke="#3a4a62" stroke-width="0.85"/>
<circle cx="512.22" cy="309.5" r="1.3" fill="#6a7fa8" stroke="#3a4a62" stroke-width="0.85"/>
<circle cx="512.22" cy="320.3" r="1.3" fill="#c4e4f8" stroke="#3a4a62" stroke-width="0.85"/>
<circle cx="527.44" cy="297.6" r="1.3" fill="#fadcc8" stroke="#3a4a62" stroke-width="0.85"/>
<circle cx="527.44" cy="309.8" r="1.3" fill="#fadcc8" stroke="#3a4a62" stroke-width="0.85"/>
<circle cx="542.66" cy="304.1" r="1.3" fill="#fadcc8" stroke="#3a4a62" stroke-width="0.85"/>
<circle cx="557.88" cy="312.3" r="1.3" fill="#6a7fa8" stroke="#3a4a62" stroke-width="0.85"/>
<circle cx="588.32" cy="338.3" r="1.3" fill="#c4e4f8" stroke="#3a4a62" stroke-width="0.85"/>
<circle cx="588.32" cy="340.7" r="1.3" fill="#fadcc8" stroke="#3a4a62" stroke-width="0.85"/>
<circle cx="595.93" cy="320.2" r="1.3" fill="#c4e4f8" stroke="#3a4a62" stroke-width="0.85"/>
<circle cx="603.54" cy="348.2" r="1.3" fill="#fadcc8" stroke="#3a4a62" stroke-width="0.85"/>
<circle cx="611.15" cy="317.1" r="1.3" fill="#c4e4f8" stroke="#3a4a62" stroke-width="0.85"/>
<line x1="497.0" y1="259.0" x2="497.0" y2="381.6" stroke="#505050" stroke-width="1.35"/>
<line x1="496.3" y1="381.0" x2="680.3" y2="381.0" stroke="#505050" stroke-width="1.35"/>
<text x="588.65" y="400.5" font-size="6.0" font-weight="700" text-anchor="middle" fill="#111" textLength="55.8" lengthAdjust="spacingAndGlyphs">month post last dose</text>
<line x1="493.4" y1="381.0" x2="497.0" y2="381.0" stroke="#444" stroke-width="1.0"/>
<text x="493.3" y="383.35" font-size="6.6" font-weight="700" text-anchor="end" fill="#111" textLength="3.23" lengthAdjust="spacingAndGlyphs">1</text>
<line x1="493.4" y1="350.5" x2="497.0" y2="350.5" stroke="#444" stroke-width="1.0"/>
<text x="493.3" y="352.85" font-size="6.6" font-weight="700" text-anchor="end" fill="#111" textLength="6.46" lengthAdjust="spacingAndGlyphs">10</text>
<line x1="493.4" y1="320.0" x2="497.0" y2="320.0" stroke="#444" stroke-width="1.0"/>
<text x="493.3" y="322.35" font-size="6.6" font-weight="700" text-anchor="end" fill="#111" textLength="9.69" lengthAdjust="spacingAndGlyphs">100</text>
<line x1="493.4" y1="289.5" x2="497.0" y2="289.5" stroke="#444" stroke-width="1.0"/>
<text x="493.3" y="291.85" font-size="6.6" font-weight="700" text-anchor="end" fill="#111" textLength="12.92" lengthAdjust="spacingAndGlyphs">1000</text>
<line x1="493.4" y1="259.0" x2="497.0" y2="259.0" stroke="#444" stroke-width="1.0"/>
<text x="493.3" y="261.35" font-size="6.6" font-weight="700" text-anchor="end" fill="#111" textLength="16.15" lengthAdjust="spacingAndGlyphs">10000</text>
<line x1="512.22" y1="381.0" x2="512.22" y2="384.4" stroke="#444" stroke-width="1.0"/>
<text x="512.22" y="391.0" font-size="6.6" font-weight="700" text-anchor="middle" fill="#111" textLength="3.23" lengthAdjust="spacingAndGlyphs">1</text>
<line x1="527.44" y1="381.0" x2="527.44" y2="384.4" stroke="#444" stroke-width="1.0"/>
<text x="527.44" y="391.0" font-size="6.6" font-weight="700" text-anchor="middle" fill="#111" textLength="3.23" lengthAdjust="spacingAndGlyphs">2</text>
<line x1="542.66" y1="381.0" x2="542.66" y2="384.4" stroke="#444" stroke-width="1.0"/>
<text x="542.66" y="391.0" font-size="6.6" font-weight="700" text-anchor="middle" fill="#111" textLength="3.23" lengthAdjust="spacingAndGlyphs">3</text>
<line x1="557.88" y1="381.0" x2="557.88" y2="384.4" stroke="#444" stroke-width="1.0"/>
<text x="557.88" y="391.0" font-size="6.6" font-weight="700" text-anchor="middle" fill="#111" textLength="3.23" lengthAdjust="spacingAndGlyphs">4</text>
<line x1="573.1" y1="381.0" x2="573.1" y2="384.4" stroke="#444" stroke-width="1.0"/>
<text x="573.1" y="391.0" font-size="6.6" font-weight="700" text-anchor="middle" fill="#111" textLength="3.23" lengthAdjust="spacingAndGlyphs">5</text>
<line x1="588.32" y1="381.0" x2="588.32" y2="384.4" stroke="#444" stroke-width="1.0"/>
<text x="588.32" y="391.0" font-size="6.6" font-weight="700" text-anchor="middle" fill="#111" textLength="3.23" lengthAdjust="spacingAndGlyphs">6</text>
<line x1="603.54" y1="381.0" x2="603.54" y2="384.4" stroke="#444" stroke-width="1.0"/>
<text x="603.54" y="391.0" font-size="6.6" font-weight="700" text-anchor="middle" fill="#111" textLength="3.23" lengthAdjust="spacingAndGlyphs">7</text>
<line x1="618.76" y1="381.0" x2="618.76" y2="384.4" stroke="#444" stroke-width="1.0"/>
<text x="618.76" y="391.0" font-size="6.6" font-weight="700" text-anchor="middle" fill="#111" textLength="3.23" lengthAdjust="spacingAndGlyphs">8</text>
<line x1="633.98" y1="381.0" x2="633.98" y2="384.4" stroke="#444" stroke-width="1.0"/>
<text x="633.98" y="391.0" font-size="6.6" font-weight="700" text-anchor="middle" fill="#111" textLength="3.23" lengthAdjust="spacingAndGlyphs">9</text>
<line x1="649.2" y1="381.0" x2="649.2" y2="384.4" stroke="#444" stroke-width="1.0"/>
<text x="649.2" y="391.0" font-size="6.6" font-weight="700" text-anchor="middle" fill="#111" textLength="6.46" lengthAdjust="spacingAndGlyphs">10</text>
<line x1="664.4200000000001" y1="381.0" x2="664.4200000000001" y2="384.4" stroke="#444" stroke-width="1.0"/>
<text x="664.4200000000001" y="391.0" font-size="6.6" font-weight="700" text-anchor="middle" fill="#111" textLength="6.46" lengthAdjust="spacingAndGlyphs">11</text>
<line x1="679.64" y1="381.0" x2="679.64" y2="384.4" stroke="#444" stroke-width="1.0"/>
<text x="679.64" y="391.0" font-size="6.6" font-weight="700" text-anchor="middle" fill="#111" textLength="6.46" lengthAdjust="spacingAndGlyphs">12</text>
<rect x="609.3" y="256.3" width="69.5" height="22.399999999999977" fill="#d9d9d9" stroke="#6e6e6e" stroke-width="0.95"/>
<text x="611.0" y="265.5" font-size="7" fill="#1a1a1a" stroke="#1a1a1a" stroke-width="0.12" textLength="66.2" lengthAdjust="spacingAndGlyphs">Fold-decline (95% CI):</text>
<text x="611.0" y="274.7" font-size="7" fill="#1a1a1a" stroke="#1a1a1a" stroke-width="0.12" textLength="52.5" lengthAdjust="spacingAndGlyphs"><tspan font-weight="700">4.99</tspan> (1.14-21.79)</text>
<circle cx="16.9" cy="245.5" r="3.0" fill="#c4e4f8" stroke="#383838" stroke-width="0.9"/>
<text x="33.3" y="249.5" font-size="11.9" font-weight="400" text-anchor="start" fill="#1e1e1e" stroke="#1e1e1e" stroke-width="0.15">RNA</text>
<circle cx="16.9" cy="265.45" r="3.0" fill="#fadcc8" stroke="#383838" stroke-width="0.9"/>
<text x="33.3" y="269.0" font-size="11.9" font-weight="400" text-anchor="start" fill="#1e1e1e" stroke="#1e1e1e" stroke-width="0.15">Vector</text>
<circle cx="16.9" cy="285.4" r="3.0" fill="#e4caf8" stroke="#383838" stroke-width="0.9"/>
<text x="33.3" y="288.6" font-size="11.9" font-weight="400" text-anchor="start" fill="#1e1e1e" stroke="#1e1e1e" stroke-width="0.15">Inactivated</text>
<circle cx="16.9" cy="305.35" r="3.0" fill="#cdeec8" stroke="#383838" stroke-width="0.9"/>
<text x="33.3" y="308.8" font-size="11.9" font-weight="400" text-anchor="start" fill="#1e1e1e" stroke="#1e1e1e" stroke-width="0.15">Heterologous (+RNA)</text>
<circle cx="16.9" cy="325.3" r="3.0" fill="#c0f5e6" stroke="#383838" stroke-width="0.9"/>
<text x="33.3" y="328.4" font-size="11.9" font-weight="400" text-anchor="start" fill="#1e1e1e" stroke="#1e1e1e" stroke-width="0.15">Heterologous (-RNA)</text>
</svg>
</body></html>
